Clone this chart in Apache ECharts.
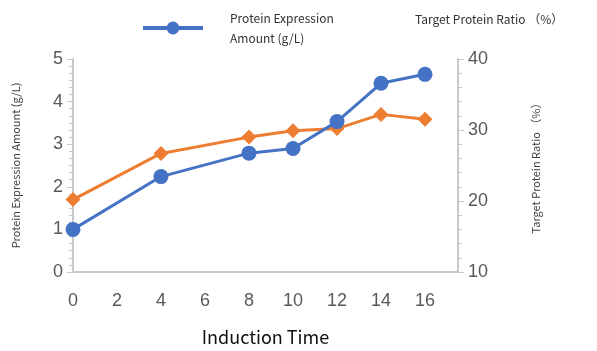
<!DOCTYPE html>
<html>
<head>
<meta charset="utf-8">
<script src="https://cdn.jsdelivr.net/npm/echarts@6/dist/echarts.min.js"></script>
<style>
  html, body { margin: 0; padding: 0; background: #fff; }
  #chart { width: 597px; height: 351px; }
</style>
</head>
<body>
<div id="chart"></div>
<script>
// induction time (h)
const inductionTime = [0, 4, 8, 10, 12, 14, 16];
// protein expression amount (g/L)
const expressionAmount = [1.0, 2.24, 2.79, 2.9, 3.53, 4.43, 4.64];
// target protein ratio (%)
const targetRatio = [20.2, 26.7, 29.0, 29.9, 30.2, 32.2, 31.5];

const blueName = 'Protein Expression\nAmount (g/L)';
const orangeName = 'Target Protein Ratio （%）';

const jp = '"Noto Sans CJK JP", "Noto Sans", sans-serif';
const tickFont = '"Liberation Sans", Arial, sans-serif';

const chart = echarts.init(document.getElementById('chart'));

chart.setOption({
  animation: false,
  backgroundColor: '#fff',
  legend: [{
    data: [blueName],
    left: 136,
    top: 3,
    itemWidth: 60,
    itemHeight: 16,
    itemGap: 0,
    lineStyle: { width: 4 },
    textStyle: { fontFamily: jp, fontSize: 12, color: '#333', lineHeight: 20, padding: [0, 0, 0, 22] }
  }, {
    data: [{ name: orangeName, icon: 'none' }],
    left: 405,
    top: 7,
    itemWidth: 0,
    textStyle: { fontFamily: jp, fontSize: 12, color: '#333' }
  }],
  grid: { left: 73, right: 139, top: 59, bottom: 79 },
  xAxis: {
    type: 'value',
    min: 0,
    max: 17.5,
    interval: 2,
    name: 'Induction Time',
    nameLocation: 'middle',
    nameGap: 56,
    nameTextStyle: { fontFamily: jp, fontSize: 18, color: '#111' },
    axisLine: { lineStyle: { color: '#c8c8c8', width: 2 } },
    axisTick: { show: false },
    splitLine: { show: false },
    axisLabel: {
      showMaxLabel: false,
      margin: 20,
      fontFamily: tickFont, fontSize: 18, color: '#595959'
    }
  },
  yAxis: [{
    type: 'value',
    min: 0,
    max: 5,
    interval: 1,
    position: 'left',
    name: 'Protein Expression Amount (g/L)',
    nameLocation: 'middle',
    nameGap: 52,
    nameTextStyle: { fontFamily: jp, fontSize: 11, color: '#404040' },
    axisLine: { show: true, lineStyle: { color: '#c8c8c8', width: 2 } },
    axisTick: { show: true, length: 6, lineStyle: { color: '#c8c8c8' } },
    minorTick: { show: true, splitNumber: 6, length: 4, lineStyle: { color: '#c8c8c8' } },
    splitLine: { show: false },
    axisLabel: { margin: 10, fontFamily: tickFont, fontSize: 18, color: '#595959' }
  }, {
    type: 'value',
    min: 10,
    max: 40,
    interval: 10,
    position: 'right',
    name: orangeName,
    nameLocation: 'middle',
    nameGap: 72,
    nameTextStyle: { fontFamily: jp, fontSize: 11, color: '#404040' },
    axisLine: { show: true, lineStyle: { color: '#c8c8c8', width: 2 } },
    axisTick: { show: true, length: 6, lineStyle: { color: '#c8c8c8' } },
    minorTick: { show: true, splitNumber: 5, length: 4, lineStyle: { color: '#c8c8c8' } },
    splitLine: { show: false },
    axisLabel: { margin: 10, fontFamily: tickFont, fontSize: 18, color: '#595959' }
  }],
  series: [{
    name: orangeName,
    type: 'line',
    yAxisIndex: 1,
    data: inductionTime.map((t, i) => [t, targetRatio[i]]),
    symbol: 'diamond',
    symbolSize: 15,
    lineStyle: { color: '#ED7D31', width: 3 },
    itemStyle: { color: '#ED7D31' }
  }, {
    name: blueName,
    type: 'line',
    yAxisIndex: 0,
    data: inductionTime.map((t, i) => [t, expressionAmount[i]]),
    symbol: 'circle',
    symbolSize: 15,
    lineStyle: { color: '#4472C4', width: 3 },
    itemStyle: { color: '#4472C4' }
  }]
});
</script>
</body>
</html>
